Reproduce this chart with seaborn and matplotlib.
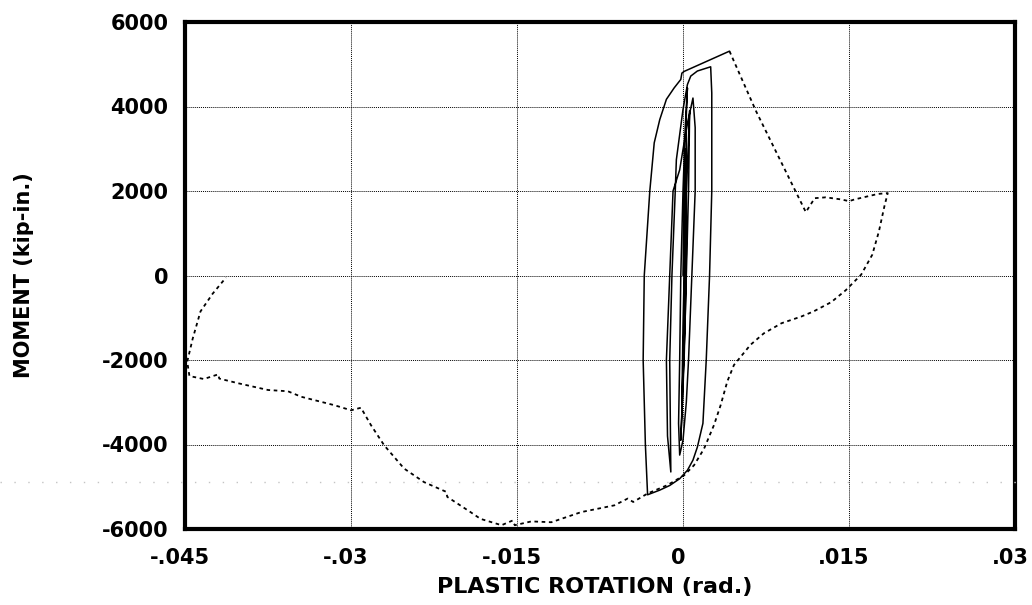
import matplotlib
matplotlib.use("Agg")
import matplotlib.pyplot as plt
import matplotlib.transforms as mtransforms
from matplotlib.lines import Line2D
import pandas as pd
import seaborn as sns

# Cyclic loading history (solid): plastic rotation (rad.) and moment (kip-in.)
cyc_rot = [0.0000, 0.0001, 0.0002, 0.0002, 0.0001, 0.0000, -0.0001, 0.0000, 0.0001,
           0.0003, 0.0005, 0.0006, 0.0005, 0.0003, 0.0001, -0.0001, -0.0002, 0.0000, 0.0002, 0.0003,
           0.0003, 0.0003, 0.0004, 0.0002, 0.0000, -0.0002, -0.0003, -0.0004, -0.0003,
           0.0000, 0.0003, 0.0005, 0.0008, 0.0011, 0.0011, 0.0009,
           0.0004, 0.0001, -0.0003, -0.0009, -0.0012, -0.0015, -0.0014, -0.0011,
           -0.0012, -0.0010, -0.0007, -0.0006, 0.0000, 0.0004, 0.0007, 0.0013, 0.0025,
           0.0026, 0.0026, 0.0024, 0.0021, 0.0018, 0.0013, 0.0009, 0.0004, -0.0003, -0.0012, -0.0021, -0.0032,
           -0.0034, -0.0036, -0.0035, -0.0030, -0.0026, -0.0021, -0.0015, -0.0008, -0.0002, -0.0001, 0.0001, 0.0042]
cyc_mom = [0, 1800, 3000, 1000, -1000, -2200, -3000, -1200, 0,
           2000, 3200, 3900, 2000, 0, -2000, -3300, -3900, -2500, -1000, 500,
           2500, 3800, 4440, 3500, 2000, 0, -2000, -3500, -4250,
           -3900, -3000, -2000, 0, 2000, 3500, 4200,
           3600, 3140, 2500, 2000, 0, -2000, -3800, -4650,
           -2000, 0, 2000, 2740, 3930, 4520, 4720, 4840, 4940,
           4320, 2000, 0, -2000, -3500, -4060, -4370, -4610, -4810, -4970, -5080, -5190,
           -4000, -2000, 0, 2000, 3140, 3690, 4170, 4440, 4640, 4790, 4830, 5310]

# Large-amplitude excursion (dashed)
push_rot = [0.0042, 0.0066, 0.0111, 0.0119, 0.0129, 0.0143, 0.0150, 0.0155, 0.0176, 0.0185,
            0.0182, 0.0177, 0.0171, 0.0161, 0.0147, 0.0134, 0.0118, 0.0107, 0.0089, 0.0073,
            0.0061, 0.0046, 0.0040, 0.0034, 0.0028, 0.0019, 0.0010, 0.0001, -0.0014, -0.0032,
            -0.0045, -0.0050, -0.0062, -0.0092, -0.0119, -0.0137, -0.0152, -0.0154, -0.0164, -0.0183,
            -0.0192, -0.0213, -0.0214, -0.0234, -0.0252, -0.0270, -0.0282, -0.0291, -0.0300, -0.0315,
            -0.0345, -0.0357, -0.0375, -0.0402, -0.0419, -0.0420, -0.0433, -0.0446, -0.0448, -0.0443,
            -0.0436, -0.0425, -0.0413]
push_mom = [5310, 3890, 1500, 1830, 1850, 1800, 1760, 1800, 1930, 1950,
            1640, 1040, 490, 20, -350, -630, -850, -970, -1130, -1370,
            -1640, -2120, -2510, -3070, -3540, -4100, -4490, -4730, -4960, -5160,
            -5360, -5280, -5440, -5600, -5840, -5820, -5910, -5800, -5910, -5760,
            -5600, -5240, -5120, -4890, -4570, -4020, -3540, -3130, -3190, -3070,
            -2870, -2740, -2710, -2550, -2440, -2340, -2450, -2380, -2040, -1490,
            -850, -430, -50]

x_ticks = [-0.045, -0.03, -0.015, 0.0, 0.015, 0.03]
x_tick_labels = ["-.045", "-.03", "-.015", "0", ".015", ".03"]
y_ticks = [-6000, -4000, -2000, 0, 2000, 4000, 6000]
y_tick_labels = ["-6000", "-4000", "-2000", "0", "2000", "4000", "6000"]

sns.set_theme(style="white")
plt.rcParams["font.family"] = ["DejaVu Sans"]
plt.rcParams["font.weight"] = "bold"

fig = plt.figure(figsize=(10.32, 6.05), dpi=100)
ax = fig.add_axes([185 / 1032, 1 - 529 / 605, 830 / 1032, 507 / 605])

cyc = pd.DataFrame({"rot": cyc_rot, "mom": cyc_mom})
push = pd.DataFrame({"rot": push_rot, "mom": push_mom})

sns.lineplot(data=cyc, x="rot", y="mom", sort=False, estimator=None,
             color="black", linewidth=1.1, ax=ax)
sns.lineplot(data=push, x="rot", y="mom", sort=False, estimator=None,
             color="black", linewidth=1.3, ax=ax)
ax.lines[-1].set_linestyle((0, (2, 2)))

ax.set_xlim(-0.045, 0.03)
ax.set_ylim(-6000, 6000)
ax.set_xticks(x_ticks)
ax.set_xticklabels(x_tick_labels)
ax.set_yticks(y_ticks)
ax.set_yticklabels(y_tick_labels)
ax.set_xlabel("")
ax.set_ylabel("")

ax.grid(True, color="black", linestyle=(0, (1, 1)), linewidth=0.7)
ax.tick_params(axis="both", direction="in", length=10, width=1.2, color="black",
               labelsize=15, labelcolor="black")
ax.tick_params(axis="y", pad=12)
ax.tick_params(axis="x", pad=14)

# nudge the rotation labels slightly left of their ticks
shift = mtransforms.ScaledTranslation(-5 / 100, 0, fig.dpi_scale_trans)
for lab in ax.get_xticklabels():
    lab.set_fontweight("bold")
    lab.set_transform(lab.get_transform() + shift)
for lab in ax.get_yticklabels():
    lab.set_fontweight("bold")

for side in ["left", "right", "top", "bottom"]:
    ax.spines[side].set_visible(True)
    ax.spines[side].set_color("black")
    ax.spines[side].set_linewidth(3)

fig.text(595 / 1032, 1 - 587 / 605, "PLASTIC ROTATION (rad.)", ha="center", va="center",
         fontsize=16, fontweight="bold", color="black")
fig.text(24 / 1032, 1 - 275 / 605, "MOMENT (kip-in.)", ha="center", va="center",
         rotation=90, fontsize=15, fontweight="bold", color="black")

# faint dotted rule across the sheet
fig.add_artist(Line2D([0.0, 0.985], [1 - 482 / 605, 1 - 482 / 605], transform=fig.transFigure,
                      color="#c4c4c4", linewidth=1, linestyle=(0, (1, 9))))

fig.savefig("out.png", dpi=100, facecolor="white")
